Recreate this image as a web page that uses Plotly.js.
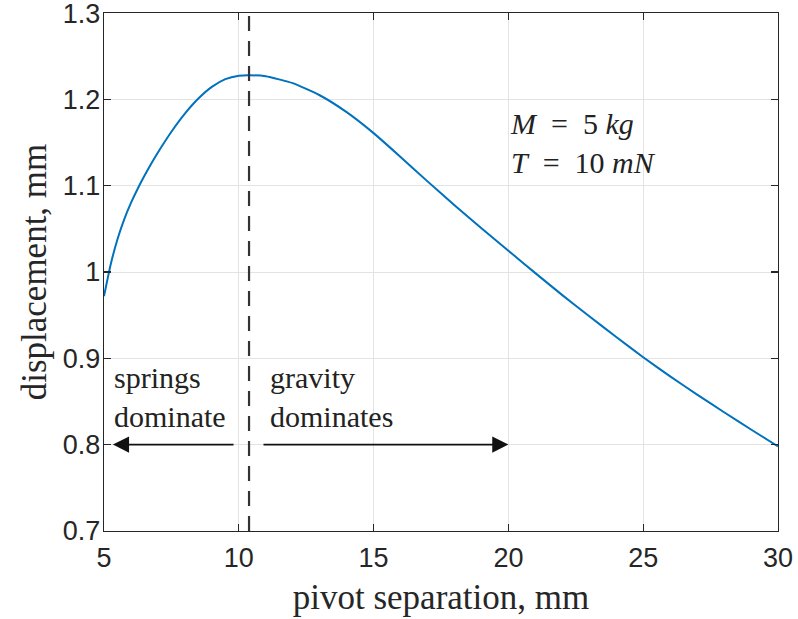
<!DOCTYPE html>
<html>
<head>
<meta charset="utf-8">
<script src="https://cdn.plot.ly/plotly-3.0.1.min.js"></script>
<style>html,body{margin:0;padding:0;background:#fff;}#chart{width:798px;height:619px;}</style>
</head>
<body>
<div id="chart"></div>
<script>
// pivot separation, mm
var separation = [5, 5.25, 5.5, 5.75, 6, 6.25, 6.5, 6.75, 7, 7.5, 8, 8.5, 9, 9.5, 10, 10.4, 11, 12, 13, 14, 15, 16, 17, 18, 19, 20, 21, 22, 23, 24, 25, 26, 27, 28, 29, 30];
// displacement, mm
var displacement = [0.972, 1.009, 1.038, 1.061, 1.080, 1.0965, 1.1115, 1.1255, 1.1385, 1.1625, 1.1835, 1.201, 1.2145, 1.2235, 1.2275, 1.228, 1.2268, 1.2188, 1.2048, 1.1852, 1.1609, 1.1333, 1.105, 1.0774, 1.0507, 1.0247, 0.9987, 0.9732, 0.9487, 0.9247, 0.9012, 0.879, 0.858, 0.8375, 0.8175, 0.798];
var peakSeparation = 10.38;
var xTicks = [5, 10, 15, 20, 25, 30];
var xTickLabels = ['5', '10', '15', '20', '25', '30'];
var yTicks = [0.7, 0.8, 0.9, 1.0, 1.1, 1.2, 1.3];
var yTickLabels = ['0.7', '0.8', '0.9', '1', '1.1', '1.2', '1.3'];
var xRange = [5, 30];
var yRange = [0.7, 1.3];
var arrowY = 0.8;
var leftArrow = {tail: 9.86, head: 5.33};
var rightArrow = {tail: 10.86, head: 20};
var textBlocks = [
  {x: 5.29, y: 0.8546, text: 'springs<br>dominate'},
  {x: 11.08, y: 0.8546, text: 'gravity<br>dominates'},
  {x: 19.98, y: 1.150, text: '<i>M</i>&nbsp; =&nbsp; 5 <i>kg</i><br><i>T</i>&nbsp; =&nbsp; 10 <i>mN</i>'}
];

var axisColor = '#262626';
var serif = 'Liberation Serif, Times New Roman, serif';
var sans = 'Liberation Sans, Arial, sans-serif';

var traces = [
  {
    x: separation, y: displacement, type: 'scatter', mode: 'lines',
    line: {color: '#0072BD', width: 2, shape: 'spline', smoothing: 0.5},
    hoverinfo: 'skip', showlegend: false
  },
  {
    x: [peakSeparation, peakSeparation], y: yRange, type: 'scatter', mode: 'lines',
    line: {color: '#333333', width: 2.2, dash: '15px,10px'},
    hoverinfo: 'skip', showlegend: false
  }
];

function arrowAnn(a) {
  return {
    x: a.head, y: arrowY, ax: a.tail, ay: arrowY,
    xref: 'x', yref: 'y', axref: 'x', ayref: 'y',
    text: '', showarrow: true, arrowhead: 2, arrowsize: 1.9, arrowwidth: 1.7,
    arrowcolor: '#111111', standoff: 0, startstandoff: 0
  };
}
function textAnn(t) {
  return {
    x: t.x, y: t.y, xref: 'x', yref: 'y', text: t.text, showarrow: false,
    xanchor: 'left', yanchor: 'middle', align: 'left',
    font: {family: serif, size: 30, color: '#222222'}
  };
}

var layout = {
  width: 798, height: 619,
  margin: {l: 104, r: 20, t: 13, b: 88, pad: 0},
  paper_bgcolor: '#ffffff', plot_bgcolor: '#ffffff',
  xaxis: {
    range: xRange, tickvals: xTicks, ticktext: xTickLabels,
    showgrid: true, gridcolor: '#e3e3e3', gridwidth: 1, zeroline: false,
    showline: true, linecolor: axisColor, linewidth: 1.2, mirror: 'ticks',
    ticks: 'inside', ticklen: 7, tickwidth: 1.2, tickcolor: axisColor,
    tickfont: {family: sans, size: 27, color: axisColor}, ticklabelstandoff: 2,
    ticklabeloverflow: 'allow',
    title: {text: 'pivot separation, mm', font: {family: serif, size: 35, color: axisColor}, standoff: 13},
    fixedrange: true
  },
  yaxis: {
    range: [yRange[0] - 0.0001, yRange[1] + 0.0001], tickvals: yTicks, ticktext: yTickLabels,
    showgrid: true, gridcolor: '#e3e3e3', gridwidth: 1, zeroline: false,
    showline: true, linecolor: axisColor, linewidth: 1.2, mirror: 'ticks',
    ticks: 'inside', ticklen: 7, tickwidth: 1.2, tickcolor: axisColor,
    tickfont: {family: sans, size: 27, color: axisColor}, ticklabelstandoff: -3,
    ticklabeloverflow: 'allow',
    title: {text: 'displacement, mm', font: {family: serif, size: 35, color: axisColor}, standoff: 5},
    fixedrange: true
  },
  annotations: [arrowAnn(leftArrow), arrowAnn(rightArrow)].concat(textBlocks.map(textAnn)),
  showlegend: false
};

Plotly.newPlot('chart', traces, layout, {displayModeBar: false, staticPlot: true});
</script>
</body>
</html>
